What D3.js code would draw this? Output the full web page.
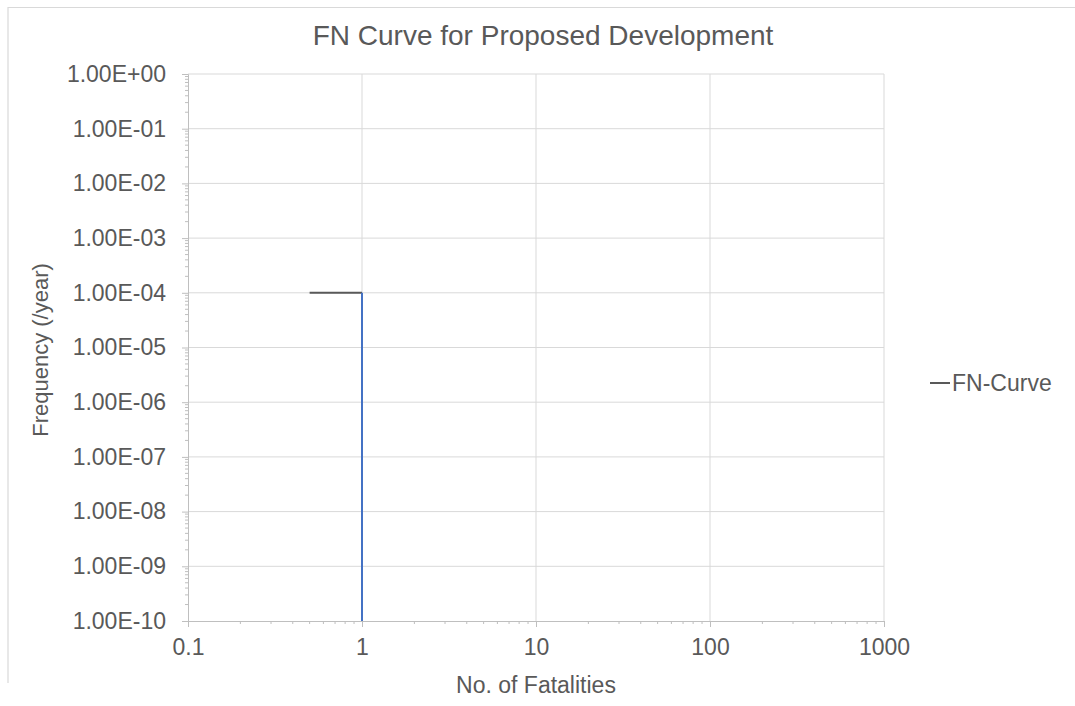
<!DOCTYPE html>
<html>
<head>
<meta charset="utf-8">
<script src="https://cdn.jsdelivr.net/npm/d3@7"></script>
<style>
  body { margin: 0; background: #fff; }
  svg text { font-family: "Liberation Sans", Arial, sans-serif; fill: #595959; }
</style>
</head>
<body>
<svg id="chart" width="1075" height="706"></svg>
<script>
// chart data
const xTicks = [0.1, 1, 10, 100, 1000];
const yTicks = [1, 1e-1, 1e-2, 1e-3, 1e-4, 1e-5, 1e-6, 1e-7, 1e-8, 1e-9, 1e-10];
const stepX = [0.5, 1];          // horizontal part of the curve
const stepY = [1e-4, 1e-4];
const dropX = [1, 1];            // vertical drop at N = 1
const dropY = [1e-4, 1e-10];
const seriesName = "FN-Curve";

const PADDING = { LEFT: 188, RIGHT: 884, TOP: 74, BOTTOM: 621 };

const svg = d3.select("#chart");

// outer chart border (top and left edges visible)
svg.append("path")
   .attr("d", "M8,683 L8,7.5 L1075,7.5")
   .attr("fill", "none")
   .attr("stroke", "#d9d9d9")
   .attr("stroke-width", 1.2);

let xScale = d3.scaleLog().domain([0.1, 1000]).range([PADDING.LEFT, PADDING.RIGHT]);
let yScale = d3.scaleLog().domain([1e-10, 1]).range([PADDING.BOTTOM, PADDING.TOP]);

// gridlines
svg.append("g").selectAll("line")
   .data(xTicks.slice(1))
   .join("line")
   .attr("x1", d => xScale(d)).attr("x2", d => xScale(d))
   .attr("y1", PADDING.TOP).attr("y2", PADDING.BOTTOM)
   .attr("stroke", "#d9d9d9").attr("stroke-width", 1);
svg.append("g").selectAll("line")
   .data(yTicks.slice(0, -1))
   .join("line")
   .attr("x1", PADDING.LEFT).attr("x2", PADDING.RIGHT)
   .attr("y1", d => yScale(d)).attr("y2", d => yScale(d))
   .attr("stroke", "#d9d9d9").attr("stroke-width", 1);

// minor ticks
let minorX = [];
for (let i = 0; i < xTicks.length - 1; i++)
  for (let k = 2; k <= 9; k++) minorX.push(xTicks[i] * k);
let minorY = [];
for (let i = yTicks.length - 1; i > 0; i--)
  for (let k = 2; k <= 9; k++) minorY.push(yTicks[i] * k);

// x axis
let xaxis = d3.axisBottom(xScale)
              .tickValues(xTicks)
              .tickFormat(d => String(d))
              .tickSize(6)
              .tickPadding(12);
let x_axis = svg.append("g")
   .attr("transform", "translate(0," + PADDING.BOTTOM + ")")
   .call(xaxis);
x_axis.select(".domain").attr("stroke", "#bfbfbf");
x_axis.selectAll(".tick line").attr("stroke", "#bfbfbf");
x_axis.selectAll(".tick text").attr("font-size", 23).attr("fill", "#595959");
x_axis.append("g").selectAll("line")
   .data(minorX)
   .join("line")
   .attr("x1", d => xScale(d)).attr("x2", d => xScale(d))
   .attr("y1", 0).attr("y2", 3)
   .attr("stroke", "#bfbfbf");

// y axis
let yaxis = d3.axisLeft(yScale)
              .tickValues(yTicks)
              .tickFormat(d => d.toExponential(2).toUpperCase().replace(/E([+-])(\d)$/, "E$10$2"))
              .tickSize(6)
              .tickPadding(16);
let y_axis = svg.append("g")
   .attr("transform", "translate(" + PADDING.LEFT + ",0)")
   .call(yaxis);
y_axis.select(".domain").attr("stroke", "#bfbfbf");
y_axis.selectAll(".tick line").attr("stroke", "#bfbfbf");
y_axis.selectAll(".tick text").attr("font-size", 23).attr("fill", "#595959");
y_axis.append("g").selectAll("line")
   .data(minorY)
   .join("line")
   .attr("x1", -3).attr("x2", 0)
   .attr("y1", d => yScale(d)).attr("y2", d => yScale(d))
   .attr("stroke", "#bfbfbf");

// curve
let line = d3.line().x(d => xScale(d[0])).y(d => yScale(d[1]));
svg.append("path")
   .attr("d", line(d3.zip(stepX, stepY)))
   .attr("fill", "none").attr("stroke", "#595959").attr("stroke-width", 2);
svg.append("path")
   .attr("d", line(d3.zip(dropX, dropY)))
   .attr("fill", "none").attr("stroke", "#4472c4").attr("stroke-width", 2);

// title
svg.append("text")
   .attr("x", 543).attr("y", 45)
   .attr("text-anchor", "middle")
   .attr("font-size", 28)
   .text("FN Curve for Proposed Development");

// axis titles
svg.append("text")
   .attr("x", 536).attr("y", 693)
   .attr("text-anchor", "middle")
   .attr("font-size", 23)
   .text("No. of Fatalities");
svg.append("text")
   .attr("transform", "translate(48,350) rotate(-90)")
   .attr("text-anchor", "middle")
   .attr("font-size", 22)
   .text("Frequency (/year)");

// legend
svg.append("line")
   .attr("x1", 930).attr("x2", 950)
   .attr("y1", 383).attr("y2", 383)
   .attr("stroke", "#595959").attr("stroke-width", 2);
svg.append("text")
   .attr("x", 952).attr("y", 391)
   .attr("font-size", 23)
   .text(seriesName);
</script>
</body>
</html>
